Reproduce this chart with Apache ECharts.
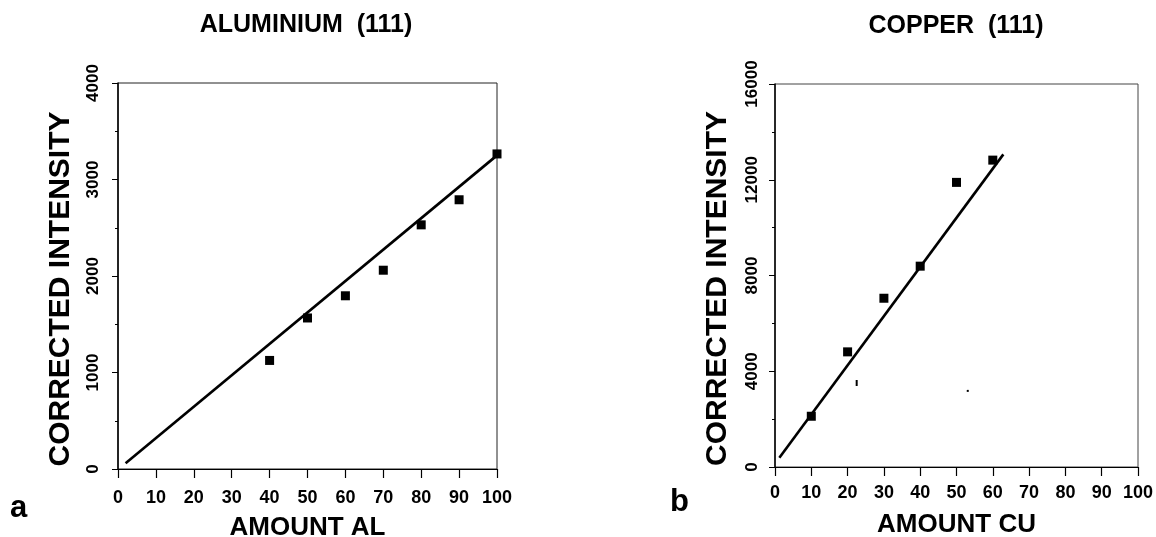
<!DOCTYPE html>
<html>
<head>
<meta charset="utf-8">
<style>
  html, body { margin: 0; padding: 0; background: #fff; }
  #chart { width: 1156px; height: 537px; }
</style>
<script src="https://cdn.jsdelivr.net/npm/echarts@6/dist/echarts.min.js"></script>
</head>
<body>
<div id="chart"></div>
<script>
// Aluminium (111): measured corrected intensity per amount
const alAmount = [40, 50, 60, 70, 80, 90, 100];
const alIntensity = [1125, 1565, 1795, 2060, 2530, 2790, 3265];
// Aluminium least-squares line, end points
const alFitX = [2, 100];
const alFitY = [60, 3250];

// Copper (111): measured corrected intensity per amount
const cuAmount = [10, 20, 30, 40, 50, 60];
const cuIntensity = [2120, 4810, 7050, 8390, 11890, 12820];
// Copper least-squares line, end points
const cuFitX = [1.2, 62.9];
const cuFitY = [390, 13060];
// Small stray marks on the copper plot
const cuSpeckX = [22.5, 53.1];
const cuSpeckY = [3510, 3180];
const cuSpeckSize = [[2, 6], [2, 2]];

// Axis ranges and tick steps
const amountTicks = { min: 0, max: 100, step: 10 };
const alTicks = { min: 0, max: 4000, step: 1000 };
const cuTicks = { min: 0, max: 16000, step: 4000 };

const FONT = 'Liberation Sans, Arial, Helvetica, sans-serif';
const pairs = (xs, ys) => xs.map((x, i) => [x, ys[i]]);

function xAxisFor(gridIndex, name, labelMargin, nameGap) {
  return {
    gridIndex, type: 'value',
    min: amountTicks.min, max: amountTicks.max, interval: amountTicks.step,
    name, nameLocation: 'middle', nameGap,
    nameTextStyle: { fontFamily: FONT, fontWeight: 'bold', fontSize: 26, color: '#000' },
    axisLine: { show: true, lineStyle: { color: '#000', width: 1 } },
    axisTick: { show: true, inside: false, length: 9, lineStyle: { color: '#000', width: 1.2 } },
    axisLabel: { margin: labelMargin, fontFamily: FONT, fontWeight: 'bold', fontSize: 18, color: '#000' },
    splitLine: { show: false }
  };
}

function yAxisFor(gridIndex, t, labelMargin) {
  return {
    gridIndex, type: 'value',
    min: t.min, max: t.max, interval: t.step,
    name: 'CORRECTED INTENSITY', nameLocation: 'middle', nameRotate: 90, nameGap: 42,
    nameTextStyle: { fontFamily: FONT, fontWeight: 'bold', fontSize: 30, color: '#000', padding: [0, 26, 0, 0] },
    axisLine: { show: true, lineStyle: { color: '#000', width: 1.5 } },
    axisTick: { show: true, inside: false, length: 6, lineStyle: { color: '#000', width: 1 } },
    minorTick: { show: true, splitNumber: 2, length: 3, lineStyle: { color: '#000', width: 1 } },
    axisLabel: { rotate: 90, margin: labelMargin, fontFamily: FONT, fontWeight: 'bold', fontSize: 17, color: '#000',
      formatter: v => String(v) },
    splitLine: { show: false },
    minorSplitLine: { show: false }
  };
}

const chart = echarts.init(document.getElementById('chart'), null, { renderer: 'canvas' });

chart.setOption({
  backgroundColor: '#fff',
  animation: false,
  title: [
    { text: 'ALUMINIUM  (111)', left: 306, top: 13, textAlign: 'center', padding: 0,
      textStyle: { fontFamily: FONT, fontWeight: 'bold', fontSize: 25, color: '#000' } },
    { text: 'COPPER  (111)', left: 956, top: 14, textAlign: 'center', padding: 0,
      textStyle: { fontFamily: FONT, fontWeight: 'bold', fontSize: 25, color: '#000' } }
  ],
  grid: [
    { left: 118, top: 83, width: 379, height: 386, outerBoundsMode: 'none', containLabel: false,
      show: true, borderColor: '#222', borderWidth: 1, backgroundColor: 'transparent' },
    { left: 775, top: 84, width: 363, height: 383, outerBoundsMode: 'none', containLabel: false,
      show: true, borderColor: '#444', borderWidth: 1, backgroundColor: 'transparent' }
  ],
  xAxis: [xAxisFor(0, 'AMOUNT AL', 20, 46), xAxisFor(1, 'AMOUNT CU', 17, 45)],
  yAxis: [yAxisFor(0, alTicks, 16), yAxisFor(1, cuTicks, 14)],
  graphic: [
    { type: 'text', left: 10, top: 493, style: { text: 'a', font: 'bold 31px ' + FONT, fill: '#000' } },
    { type: 'text', left: 670, top: 487, style: { text: 'b', font: 'bold 31px ' + FONT, fill: '#000' } }
  ],
  series: [
    { type: 'line', xAxisIndex: 0, yAxisIndex: 0, data: pairs(alFitX, alFitY),
      showSymbol: false, lineStyle: { color: '#000', width: 2.6 }, silent: true },
    { type: 'scatter', xAxisIndex: 0, yAxisIndex: 0, data: pairs(alAmount, alIntensity),
      symbol: 'rect', symbolSize: 9, itemStyle: { color: '#000', opacity: 1 } },
    { type: 'line', xAxisIndex: 1, yAxisIndex: 1, data: pairs(cuFitX, cuFitY),
      showSymbol: false, lineStyle: { color: '#000', width: 2.6 }, silent: true },
    { type: 'scatter', xAxisIndex: 1, yAxisIndex: 1, data: pairs(cuAmount, cuIntensity),
      symbol: 'rect', symbolSize: 9, itemStyle: { color: '#000', opacity: 1 } },
    { type: 'scatter', xAxisIndex: 1, yAxisIndex: 1,
      data: cuSpeckX.map((x, i) => ({ value: [x, cuSpeckY[i]], symbolSize: cuSpeckSize[i] })),
      symbol: 'rect', itemStyle: { color: '#000', opacity: 1 } }
  ]
});
</script>
</body>
</html>
